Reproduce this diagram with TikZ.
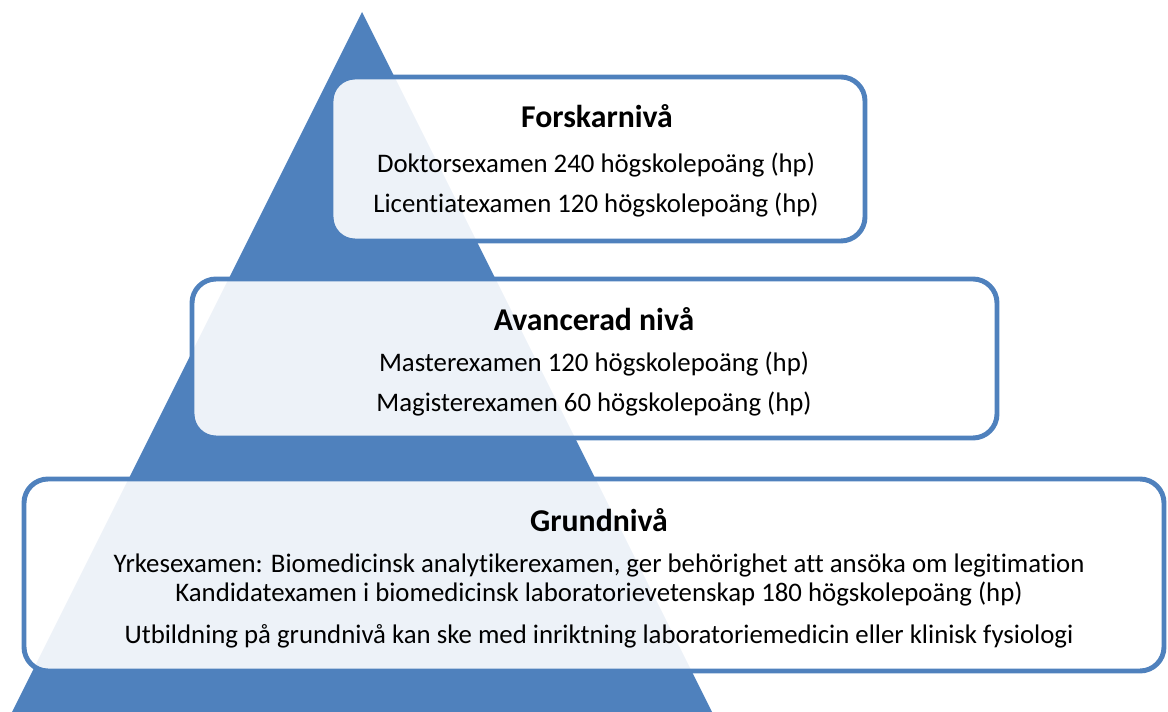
\documentclass[tikz,border=0pt]{standalone}
\usepackage{fontspec}
\setmainfont[Ligatures=CommonOff]{Carlito}
\usetikzlibrary{positioning, fit}
\definecolor{pyrblue}{RGB}{79,129,189}
\tikzset{
  tierbox/.style={rectangle, draw=pyrblue, fill=white, fill opacity=0.9,
    line width=3.7pt, rounded corners=18pt, inner sep=0pt},
  tiertitle/.style={anchor=base, inner sep=0pt, font=\fontsize{23.8}{28}\selectfont\bfseries},
  tierline/.style={anchor=base, inner sep=0pt, font=\fontsize{20.1}{24}\selectfont}
}

\begin{document}
\begin{tikzpicture}[x=0.75pt, y=-0.75pt]
  \useasboundingbox (0,0) rectangle (1168,712);

  % Pyramid
  \fill[pyrblue] (362,12) -- (12,712) -- (712,712) -- cycle;

  % Tier boxes
  \node[tierbox, fit={(331,77) (865,241)}] (forsk) {};
  \node[tierbox, fit={(192,279) (997,438)}] (avanc) {};
  \node[tierbox, fit={(24,479) (1164,671)}] (grund) {};

  % Forskarniva
  \node[tiertitle] (forskT) at (597,128) {Forskarnivå};
  \node[tierline] (forsk1) at (596,173) {Doktorsexamen 240 högskolepoäng (hp)};
  \node[tierline] (forsk2) at (596,213) {Licentiatexamen 120 högskolepoäng (hp)};

  % Avancerad niva
  \node[tiertitle] (avancT) at (594,331) {Avancerad nivå};
  \node[tierline] (avanc1) at (594,372) {Masterexamen 120 högskolepoäng (hp)};
  \node[tierline] (avanc2) at (594,412) {Magisterexamen 60 högskolepoäng (hp)};

  % Grundniva
  \node[tiertitle] (grundT) at (599,532) {Grundnivå};
  \node[tierline] (grund1) at (599,573) {Yrkesexamen: Biomedicinsk analytikerexamen, ger behörighet att ansöka om legitimation};
  \node[tierline] (grund2) at (599,602) {Kandidatexamen i biomedicinsk laboratorievetenskap 180 högskolepoäng (hp)};
  \node[tierline] (grund3) at (599,643) {Utbildning på grundnivå kan ske med inriktning laboratoriemedicin eller klinisk fysiologi};
\end{tikzpicture}
\end{document}
